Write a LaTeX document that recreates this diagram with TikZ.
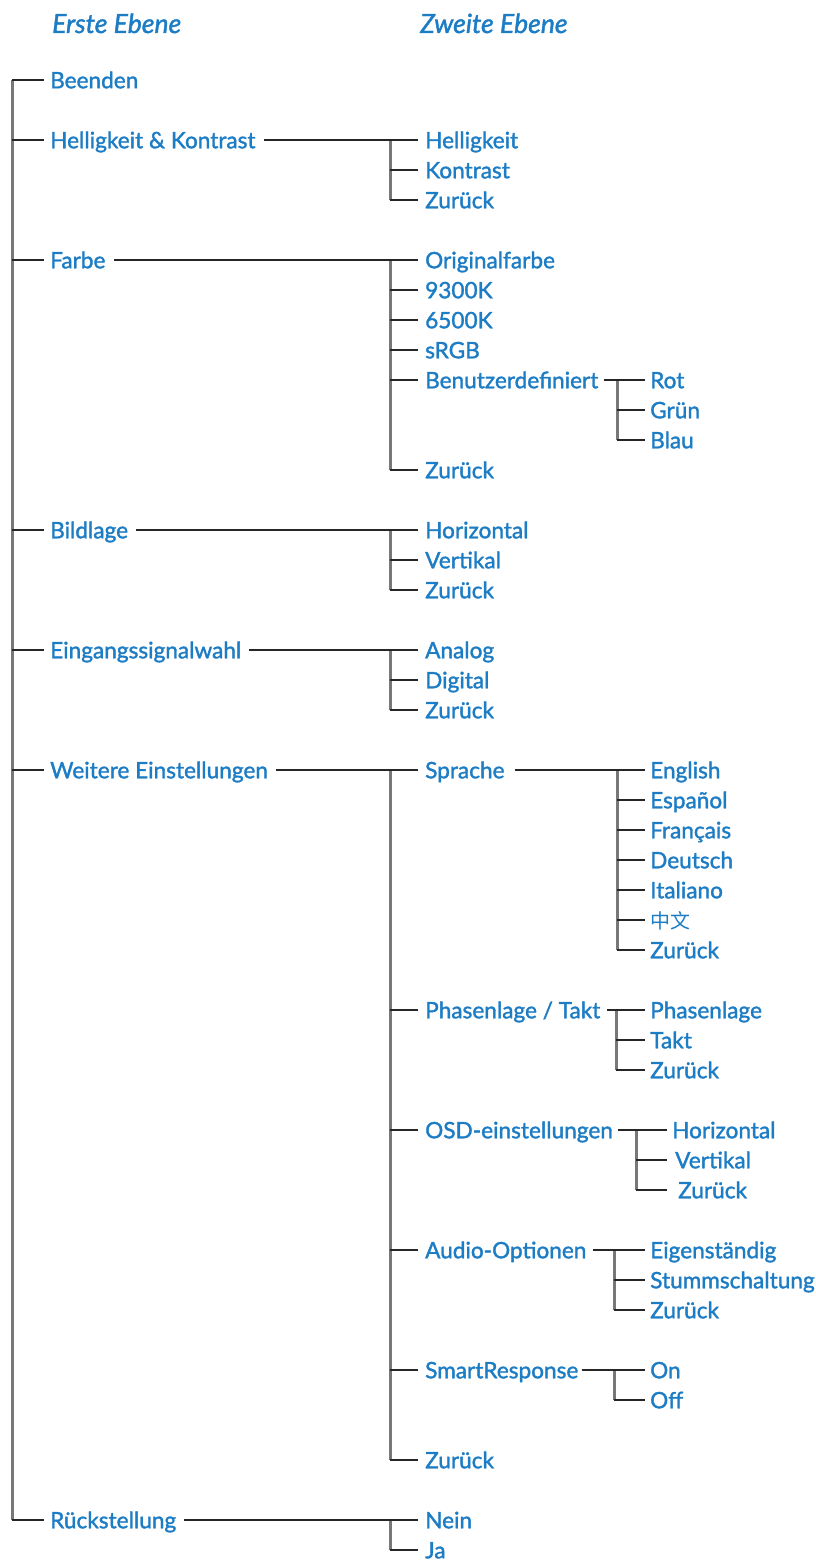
\documentclass[tikz,border=0pt]{standalone}
\usepackage{fontspec}
\setmainfont{Lato}
\newfontfamily\itemfont{Lato}[FakeBold=1.5]
\newfontfamily\cjk{Noto Sans CJK SC}
\definecolor{tblue}{RGB}{28,124,196}
\definecolor{vgray}{RGB}{120,120,120}
\begin{document}
\begin{tikzpicture}[x=1pt,y=-1pt,
  item/.style={anchor=west, inner sep=0pt, text=tblue, font=\itemfont\fontsize{22.6}{26}\selectfont, text height=16.5pt, text depth=0pt},
  head/.style={anchor=base west, inner sep=0pt, text=tblue, font=\itemfont\fontsize{26.5}{30}\selectfont\itshape},
  hl/.style={draw=black!85, line width=1.7pt},
  vl/.style={draw=vgray, line width=3pt}]
\useasboundingbox (0,0) rectangle (816,1560);
\node[head] (h1) at (52,33) {Erste Ebene};
\node[head] (h2) at (420,33) {Zweite Ebene};
% level 1
\node[item] (beenden) at (50,80) {Beenden};
\node[item] (hk) at (50,140) {Helligkeit \& Kontrast};
\node[item] (farbe) at (50,260) {Farbe};
\node[item] (bild) at (50,530) {Bildlage};
\node[item] (eing) at (50,650) {Eingangssignalwahl};
\node[item] (weit) at (50,770) {Weitere Einstellungen};
\node[item] (rueck) at (50,1520) {Rückstellung};
% level 2
\node[item] (hell) at (425,140) {Helligkeit};
\node[item] (kontr) at (425,170) {Kontrast};
\node[item] (hkz) at (425,200) {Zurück};
\node[item] (orig) at (425,260) {Originalfarbe};
\node[item] (k93) at (425,290) {9300K};
\node[item] (k65) at (425,320) {6500K};
\node[item] (srgb) at (425,350) {sRGB};
\node[item] (benu) at (425,380) {Benutzerdefiniert};
\node[item] (fz) at (425,470) {Zurück};
\node[item] (horiz) at (425,530) {Horizontal};
\node[item] (vert) at (425,560) {Vertikal};
\node[item] (bz) at (425,590) {Zurück};
\node[item] (analog) at (425,650) {Analog};
\node[item] (digital) at (425,680) {Digital};
\node[item] (ez) at (425,710) {Zurück};
\node[item] (sprache) at (425,770) {Sprache};
\node[item] (phasen) at (425,1010) {Phasenlage / Takt};
\node[item] (osd) at (425,1130) {OSD-einstellungen};
\node[item] (audio) at (425,1250) {Audio-Optionen};
\node[item] (smart) at (425,1370) {SmartResponse};
\node[item] (wz) at (425,1460) {Zurück};
\node[item] (nein) at (425,1520) {Nein};
\node[item] (ja) at (425,1550) {Ja};
% level 3
\node[item] (rot) at (650,380) {Rot};
\node[item] (gruen) at (650,410) {Grün};
\node[item] (blau) at (650,440) {Blau};
\node[item] (english) at (650,770) {English};
\node[item] (espanol) at (650,800) {Español};
\node[item] (francais) at (650,830) {Français};
\node[item] (deutsch) at (650,860) {Deutsch};
\node[item] (italiano) at (650,890) {Italiano};
\node[item, font=\fontsize{20}{24}\selectfont\cjk] (zh) at (650,920) {中文};
\node[item] (sz) at (650,950) {Zurück};
\node[item] (phl) at (650,1010) {Phasenlage};
\node[item] (takt) at (650,1040) {Takt};
\node[item] (pz) at (650,1070) {Zurück};
\node[item] (ohor) at (672,1130) {Horizontal};
\node[item] (overt) at (675,1160) {Vertikal};
\node[item] (oz) at (678,1190) {Zurück};
\node[item] (eig) at (650,1250) {Eigenständig};
\node[item] (stumm) at (650,1280) {Stummschaltung};
\node[item] (az) at (650,1310) {Zurück};
\node[item] (on) at (650,1370) {On};
\node[item] (off) at (650,1400) {Off};
% vertical line positions
\coordinate (v0) at (12,80);
\coordinate (vhk) at (390,140);
\coordinate (vfarbe) at (390,260);
\coordinate (vbenu) at (617,380);
\coordinate (vbild) at (390,530);
\coordinate (veing) at (390,650);
\coordinate (vweit) at (390,770);
\coordinate (vspr) at (617,770);
\coordinate (vpha) at (616,1010);
\coordinate (vosd) at (636,1130);
\coordinate (vaud) at (614,1250);
\coordinate (vsm) at (614,1370);
\coordinate (vrk) at (390,1520);
% verticals
\draw[vl] (v0) -- (v0 |- rueck.west);
\foreach \v/\l in {vhk/hkz, vfarbe/fz, vbenu/blau, vbild/bz, veing/ez, vweit/wz, vspr/sz, vpha/pz, vosd/oz, vaud/az, vsm/off, vrk/ja}
  \draw[vl] (\v) -- (\v |- \l.west);
% level 1 ticks
\foreach \n in {beenden, hk, farbe, bild, eing, weit, rueck}
  \draw[hl] (v0 |- \n.west) -- ([xshift=-6pt]\n.west);
% parent connectors level 1 -> level 2
\foreach \p/\c in {hk/hell, farbe/orig, bild/horiz, eing/analog, weit/sprache, rueck/nein}
  \draw[hl] ([xshift=8pt]\p.east) -- ([xshift=-7pt]\c.west);
% level 2 ticks
\foreach \v/\n in {vhk/kontr, vhk/hkz, vfarbe/k93, vfarbe/k65, vfarbe/srgb, vfarbe/benu, vfarbe/fz, vbild/vert, vbild/bz, veing/digital, veing/ez, vweit/phasen, vweit/osd, vweit/audio, vweit/smart, vweit/wz, vrk/ja}
  \draw[hl] (\v |- \n.west) -- ([xshift=-7pt]\n.west);
% parent connectors level 2 -> level 3
\foreach \p/\c/\g in {benu/rot/5, sprache/english/10, phasen/phl/6, osd/ohor/5, audio/eig/6, smart/on/3}
  \draw[hl] ([xshift=\g pt]\p.east) -- ([xshift=-5pt]\c.west);
% level 3 ticks
\foreach \v/\n in {vbenu/gruen, vbenu/blau, vspr/espanol, vspr/francais, vspr/deutsch, vspr/italiano, vspr/zh, vspr/sz, vpha/takt, vpha/pz, vaud/stumm, vaud/az, vsm/off}
  \draw[hl] (\v |- \n.west) -- ([xshift=-5pt]\n.west);
\draw[hl] (vosd |- overt.west) -- ([xshift=-8pt]overt.west);
\draw[hl] (vosd |- oz.west) -- ([xshift=-11pt]oz.west);
\end{tikzpicture}
\end{document}
